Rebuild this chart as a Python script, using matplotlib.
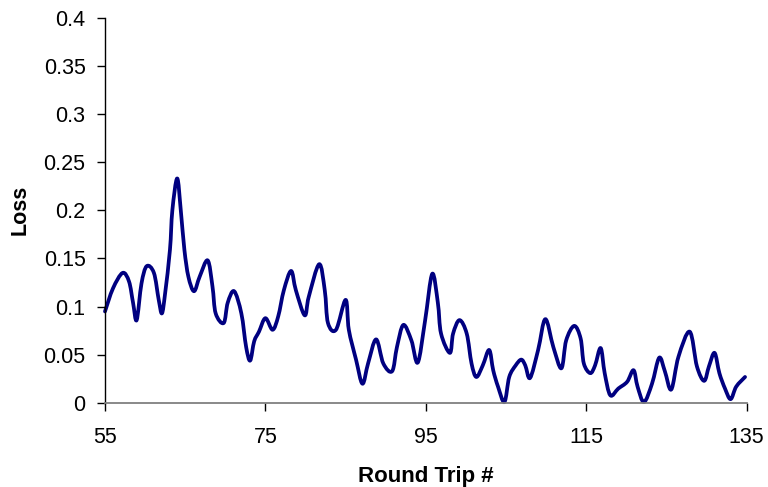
import numpy as np
import matplotlib
matplotlib.use("Agg")
import matplotlib.pyplot as plt
from matplotlib.path import Path
from matplotlib.patches import PathPatch

plt.rcParams['font.family'] = ['Liberation Sans', 'DejaVu Sans']

# (round trip #, loss)
round_trip = [55.0, 56.0, 57.2, 58.0, 58.5, 58.95, 59.55, 60.2, 61.1, 61.7, 62.1, 62.5,
              63.1, 63.4, 64.0, 64.45, 64.9, 65.4, 66.1, 66.8, 67.8, 68.4, 68.8, 69.8,
              70.3, 71.1, 72.0, 72.6, 73.1, 73.6, 74.2, 75.0, 75.9, 76.6, 77.3, 78.2,
              78.8, 79.9, 80.4, 81.7, 82.4, 82.8, 83.8, 85.0, 85.4, 86.3, 87.1, 87.8,
              88.8, 89.7, 90.8, 91.4, 92.2, 93.2, 94.0, 94.9, 95.8, 96.5, 96.9, 98.0,
              98.4, 99.2, 100.1, 100.7, 101.3, 102.1, 102.9, 103.4, 104.0, 104.8, 105.4,
              106.2, 106.9, 107.4, 108.0, 109.0, 109.9, 110.9, 111.9, 112.5, 113.5, 114.3,
              114.7, 115.5, 116.1, 116.8, 117.3, 118.0, 119.0, 120.1, 120.9, 121.4, 122.2,
              123.2, 124.1, 124.8, 125.6, 126.5, 127.9, 128.8, 129.7, 130.3, 131.0, 131.6,
              132.3, 133.0, 133.7, 134.8]
loss = [0.095, 0.119, 0.135, 0.126, 0.104, 0.086, 0.124, 0.142, 0.135, 0.107, 0.093, 0.114,
        0.159, 0.200, 0.233, 0.200, 0.159, 0.131, 0.116, 0.131, 0.148, 0.121, 0.093, 0.083,
        0.104, 0.116, 0.093, 0.058, 0.044, 0.064, 0.074, 0.088, 0.076, 0.090, 0.117, 0.137,
        0.117, 0.091, 0.110, 0.144, 0.117, 0.083, 0.076, 0.107, 0.076, 0.045, 0.020, 0.041,
        0.066, 0.041, 0.033, 0.058, 0.081, 0.065, 0.042, 0.085, 0.134, 0.104, 0.072, 0.052,
        0.072, 0.086, 0.072, 0.041, 0.027, 0.039, 0.055, 0.034, 0.017, 0.001, 0.027,
        0.039, 0.045, 0.039, 0.026, 0.055, 0.087, 0.058, 0.036, 0.065, 0.080, 0.067,
        0.041, 0.031, 0.039, 0.057, 0.031, 0.008, 0.015, 0.022, 0.034, 0.017, 0.001,
        0.020, 0.047, 0.033, 0.014, 0.048, 0.074, 0.038, 0.023, 0.038, 0.052, 0.031,
        0.015, 0.004, 0.017, 0.027]

x_ticks = [55, 75, 95, 115, 135]
y_ticks = [0, 0.05, 0.1, 0.15, 0.2, 0.25, 0.3, 0.35, 0.4]
y_labels = ['0', '0.05', '0.1', '0.15', '0.2', '0.25', '0.3', '0.35', '0.4']


def smooth_path(xs, ys):
    # excel style smoothed line: catmull-rom turned into cubic beziers
    p = np.column_stack([xs, ys])
    pts = np.vstack([p[0], p, p[-1]])
    verts = [p[0]]
    codes = [Path.MOVETO]
    for i in range(1, len(pts) - 2):
        c1 = pts[i] + (pts[i + 1] - pts[i - 1]) / 6
        c2 = pts[i + 1] - (pts[i + 2] - pts[i]) / 6
        verts += [c1, c2, pts[i + 1]]
        codes += [Path.CURVE4] * 3
    return Path(verts, codes)


fig = plt.figure(figsize=(7.68, 4.87), dpi=100)
ax = fig.add_axes([0.1367, 0.1725, 0.8355, 0.7915])

ax.add_patch(PathPatch(smooth_path(round_trip, loss), facecolor='none',
                       edgecolor='#000080', lw=2.7, capstyle='round', joinstyle='round',
                       clip_on=False))

ax.set_xlim(55, 135)
ax.set_ylim(0, 0.4)
ax.set_xticks(x_ticks)
ax.set_yticks(y_ticks)
ax.set_yticklabels(y_labels)

for s in ['top', 'right']:
    ax.spines[s].set_visible(False)
ax.spines['bottom'].set_color('#808080')
ax.spines['bottom'].set_linewidth(1.3)
ax.spines['left'].set_linewidth(1.0)

ax.tick_params(axis='both', direction='out', length=6, width=1.0, color='black',
               labelsize=15.5)
ax.tick_params(axis='y', pad=8)
ax.tick_params(axis='x', pad=11)

ax.set_xlabel('Round Trip #', fontsize=16, fontweight='bold', labelpad=13)
ax.set_ylabel('Loss', fontsize=15.5, fontweight='bold', labelpad=9)

fig.savefig('out.png', dpi=100)
